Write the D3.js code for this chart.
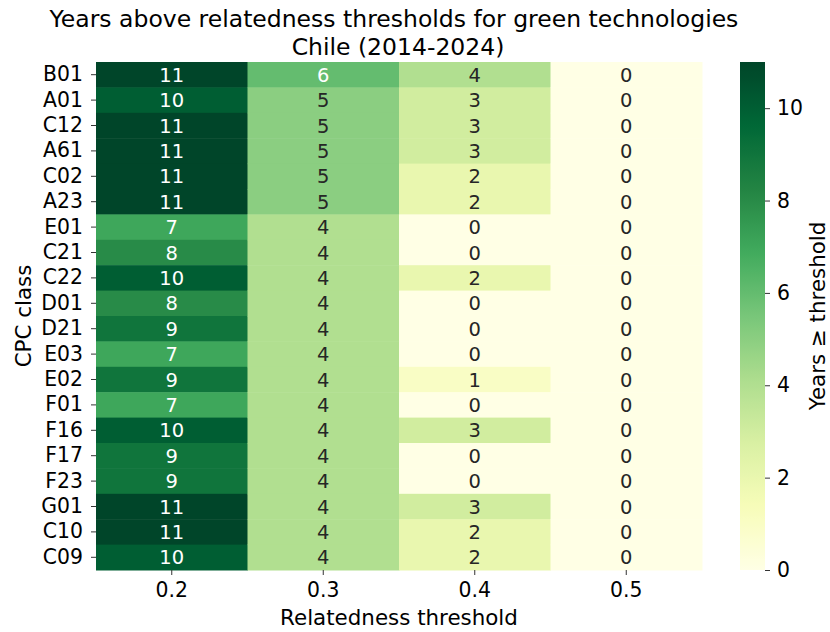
<!DOCTYPE html>
<html>
<head>
<meta charset="utf-8">
<script src="https://cdn.jsdelivr.net/npm/d3@7"></script>
<style>
  html, body { margin: 0; padding: 0; background: #ffffff; }
  svg text { font-family: "DejaVu Sans", sans-serif; }
</style>
</head>
<body>
<svg id="chart" width="830" height="632"></svg>
<script>
// CPC classes (rows) and relatedness thresholds (columns)
const classes = ["B01","A01","C12","A61","C02","A23","E01","C21","C22","D01",
                 "D21","E03","E02","F01","F16","F17","F23","G01","C10","C09"];
const thresholds = ["0.2","0.3","0.4","0.5"];

// Years at or above each threshold, one array per threshold column
const years02 = [11,10,11,11,11,11,7,8,10,8,9,7,9,7,10,9,9,11,11,10];
const years03 = [6,5,5,5,5,5,4,4,4,4,4,4,4,4,4,4,4,4,4,4];
const years04 = [4,3,3,3,2,2,0,0,2,0,0,0,1,0,3,0,0,3,2,2];
const years05 = [0,0,0,0,0,0,0,0,0,0,0,0,0,0,0,0,0,0,0,0];
const columns = [years02, years03, years04, years05];

const colorbarTicks = [0,2,4,6,8,10];
const vmin = 0, vmax = 11;

// YlGn colour ramp (ColorBrewer stops, linearly interpolated)
const ylgn = ["#ffffe5","#f7fcb9","#d9f0a3","#addd8e","#78c679",
              "#41ab5d","#238443","#006837","#004529"];
const color = d3.scaleLinear()
  .domain(ylgn.map((_, i) => vmin + (vmax - vmin) * i / (ylgn.length - 1)))
  .range(ylgn)
  .interpolate(d3.interpolateRgb);

// pick annotation colour from the cell's relative luminance
function textColor(fill) {
  const c = d3.rgb(fill);
  const lin = v => { v /= 255; return v <= 0.03928 ? v / 12.92 : Math.pow((v + 0.055) / 1.055, 2.4); };
  const lum = 0.2126 * lin(c.r) + 0.7152 * lin(c.g) + 0.0722 * lin(c.b);
  return lum > 0.408 ? "#262626" : "#ffffff";
}

const tickFont = 20.4, labelFont = 21.4, titleFont = 23.5, annotFont = 19.5;

const svg = d3.select("#chart");
const plot = { left: 96, right: 702, top: 62, bottom: 570 };

const x = d3.scaleBand().domain(thresholds).range([plot.left, plot.right]);
const y = d3.scaleBand().domain(classes).range([plot.top, plot.bottom]);

const cells = [];
thresholds.forEach((t, j) => {
  classes.forEach((c, i) => cells.push({ t, c, v: columns[j][i] }));
});

const g = svg.append("g");
g.selectAll("rect.cell").data(cells).join("rect")
  .attr("class", "cell")
  .attr("x", d => x(d.t))
  .attr("y", d => y(d.c))
  .attr("width", x.bandwidth() + 0.5)
  .attr("height", y.bandwidth() + 0.5)
  .attr("fill", d => color(d.v));

g.selectAll("text.val").data(cells).join("text")
  .attr("class", "val")
  .attr("x", d => x(d.t) + x.bandwidth() / 2)
  .attr("y", d => y(d.c) + y.bandwidth() / 2)
  .attr("dy", "0.36em")
  .attr("text-anchor", "middle")
  .attr("font-size", annotFont)
  .attr("fill", d => textColor(color(d.v)))
  .text(d => d.v);

// axes
const xAxis = svg.append("g")
  .attr("transform", `translate(0,${plot.bottom})`)
  .call(d3.axisBottom(x).tickSize(5).tickPadding(8));
const yAxis = svg.append("g")
  .attr("transform", `translate(${plot.left},0)`)
  .call(d3.axisLeft(y).tickSize(5).tickPadding(8));
[xAxis, yAxis].forEach(a => {
  a.select(".domain").remove();
  a.selectAll(".tick line").attr("stroke", "#333").attr("stroke-width", 1);
  a.selectAll(".tick text").attr("font-size", tickFont).attr("fill", "#000")
    .attr("font-family", "DejaVu Sans, sans-serif");
});

// axis labels and title
svg.append("text")
  .attr("x", (plot.left + plot.right) / 2).attr("y", 625)
  .attr("text-anchor", "middle").attr("font-size", labelFont).attr("fill", "#000")
  .text("Relatedness threshold");
svg.append("text")
  .attr("transform", `translate(31,${(plot.top + plot.bottom) / 2}) rotate(-90)`)
  .attr("text-anchor", "middle").attr("font-size", labelFont).attr("fill", "#000")
  .text("CPC class");
svg.append("text")
  .attr("x", 394).attr("y", 27)
  .attr("text-anchor", "middle").attr("font-size", titleFont).attr("fill", "#000")
  .text("Years above relatedness thresholds for green technologies");
svg.append("text")
  .attr("x", 398).attr("y", 54.5)
  .attr("text-anchor", "middle").attr("font-size", titleFont).attr("fill", "#000")
  .text("Chile (2014-2024)");

// colour bar
const cb = { left: 740, width: 25 };
const cbScale = d3.scaleLinear().domain([vmin, vmax]).range([plot.bottom, plot.top]);
const grad = svg.append("defs").append("linearGradient")
  .attr("id", "cbgrad").attr("x1", 0).attr("y1", 1).attr("x2", 0).attr("y2", 0);
d3.range(0, 101).forEach(k => {
  const v = vmin + (vmax - vmin) * k / 100;
  grad.append("stop").attr("offset", `${k}%`).attr("stop-color", color(v));
});
svg.append("rect")
  .attr("x", cb.left).attr("y", plot.top)
  .attr("width", cb.width).attr("height", plot.bottom - plot.top)
  .attr("fill", "url(#cbgrad)");
const cbAxis = svg.append("g")
  .attr("transform", `translate(${cb.left + cb.width},0)`)
  .call(d3.axisRight(cbScale).tickValues(colorbarTicks).tickSize(5).tickPadding(7));
cbAxis.select(".domain").remove();
cbAxis.selectAll(".tick line").attr("stroke", "#333");
cbAxis.selectAll(".tick text").attr("font-size", tickFont).attr("fill", "#000")
  .attr("font-family", "DejaVu Sans, sans-serif");
svg.append("text")
  .attr("transform", `translate(825,${(plot.top + plot.bottom) / 2}) rotate(-90)`)
  .attr("text-anchor", "middle").attr("font-size", labelFont).attr("fill", "#000")
  .text("Years ≥ threshold");
</script>
</body>
</html>
